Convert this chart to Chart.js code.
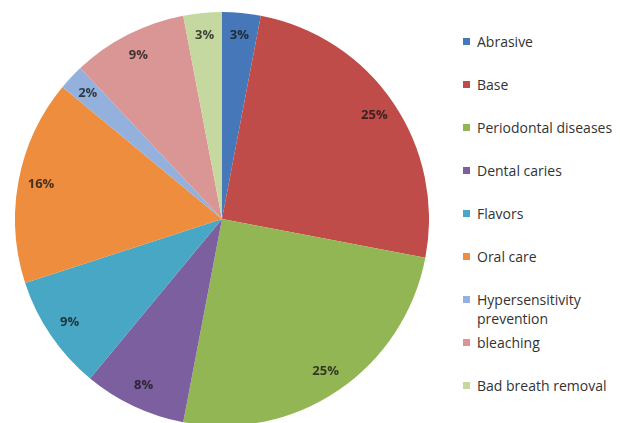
<!DOCTYPE html>
<html>
<head>
<meta charset="utf-8">
<script src="https://cdn.jsdelivr.net/npm/chart.js@4/dist/chart.umd.min.js"></script>
<style>
    html,body{margin:0;padding:0;background:#fff;overflow:hidden;}
    body{width:620px;height:423px;position:relative;}
    #pieBox{position:absolute;left:15px;top:12px;width:414px;height:414px;}
    #legend{position:absolute;left:463px;top:0;font-family:"Open Sans",Lato,sans-serif;font-size:14px;color:#333;}
    .lg-item{position:absolute;left:0;display:flex;align-items:flex-start;white-space:nowrap;line-height:19px;}
    .lg-box{width:7px;height:7px;margin:6px 7px 0 0;flex:none;}
</style>
</head>
<body>

<div id="pieBox"><canvas id="pieChart"></canvas></div>
<div id="legend"></div>

<script>
// categories and shares (percent)
const labels = [
    "Abrasive",
    "Base",
    "Periodontal diseases",
    "Dental caries",
    "Flavors",
    "Oral care",
    "Hypersensitivity prevention",
    "bleaching",
    "Bad breath removal"
];
const values = [3, 25, 25, 8, 9, 16, 2, 9, 3];
const colors = ["#4677b8", "#bf4c49", "#93b654", "#7c5f9f", "#48a7c4", "#ef8d3f", "#93b1dc", "#d99695", "#c4d89f"];

// legend lines (the long entry wraps onto two lines)
const legendLines = [
    ["Abrasive"],
    ["Base"],
    ["Periodontal diseases"],
    ["Dental caries"],
    ["Flavors"],
    ["Oral care"],
    ["Hypersensitivity", "prevention"],
    ["bleaching"],
    ["Bad breath removal"]
];

/* ===== PERCENT LABELS ON SLICES ===== */
const sliceLabels = {
    id:"sliceLabels",
    afterDatasetsDraw(chart){
        const ctx = chart.ctx;
        const meta = chart.getDatasetMeta(0);
        ctx.save();
        ctx.font = "bold 13px 'Open Sans', Lato, sans-serif";
        ctx.textAlign = "center";
        ctx.textBaseline = "middle";
        ctx.fillStyle = "rgba(20,20,20,0.78)";
        meta.data.forEach((arc,i)=>{
            const p = arc.getProps(["x","y","startAngle","endAngle","outerRadius"],true);
            const mid = (p.startAngle + p.endAngle)/2;
            const r = p.outerRadius*0.89;
            ctx.fillText(values[i] + "%", p.x + Math.cos(mid)*r, p.y + Math.sin(mid)*r);
        });
        ctx.restore();
    }
};

new Chart(document.getElementById("pieChart"),{
    type:"pie",
    data:{
        labels:labels,
        datasets:[{
            data:values,
            backgroundColor:colors,
            borderWidth:0
        }]
    },
    options:{
        responsive:true,
        maintainAspectRatio:false,
        animation:false,
        layout:{padding:0},
        plugins:{
            legend:{display:false},
            tooltip:{enabled:false}
        }
    },
    plugins:[sliceLabels]
});

/* ===== LEGEND ===== */
const legend = document.getElementById("legend");
legendLines.forEach((lines,i)=>{
    const item = document.createElement("div");
    item.className = "lg-item";
    item.style.top = (32 + i*43) + "px";
    const box = document.createElement("span");
    box.className = "lg-box";
    box.style.background = colors[i];
    const txt = document.createElement("span");
    txt.innerHTML = lines.join("<br>");
    item.appendChild(box);
    item.appendChild(txt);
    legend.appendChild(item);
});
</script>
</body>
</html>
